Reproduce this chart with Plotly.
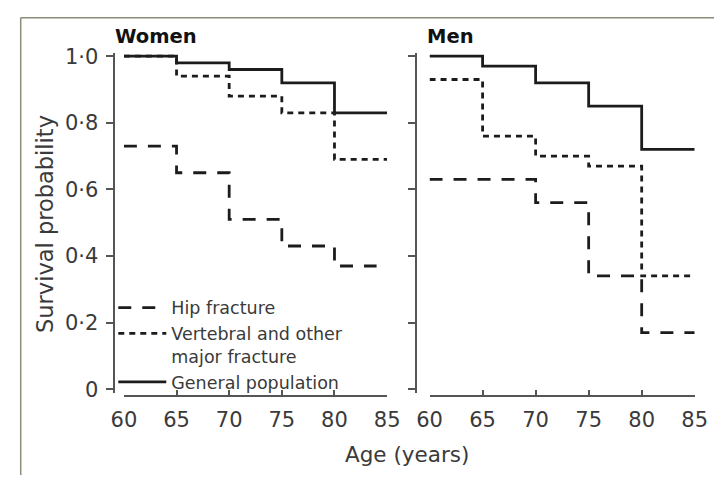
import plotly.graph_objects as go

# Age bands (start of each interval) and the closing age of each curve
ages = [60, 65, 70, 75, 80, 85]
women_hip_end = 84

# Survival probability in each age band
women_general = [1.00, 0.98, 0.96, 0.92, 0.83]
women_vertebral = [1.00, 0.94, 0.88, 0.83, 0.69]
women_hip = [0.73, 0.65, 0.51, 0.43, 0.37]

men_general = [1.00, 0.97, 0.92, 0.85, 0.72]
men_vertebral = [0.93, 0.76, 0.70, 0.67, 0.34]
men_hip = [0.63, 0.63, 0.56, 0.34, 0.17]

y_tick_vals = [0, 0.2, 0.4, 0.6, 0.8, 1.0]
y_tick_text = ["0", "0·2", "0·4", "0·6", "0·8", "1·0"]
x_tick_vals = [60, 65, 70, 75, 80, 85]

series_names = ["Hip fracture", "Vertebral and other<br>major fracture", "General population"]

W, H = 727, 484
FONT = "DejaVu Sans, Verdana, sans-serif"
INK = "#1c1c1c"
AXIS = "#555555"
TXT = "#3a3a3a"


def px_x(p):
    return p / W


def px_y(p):
    return (H - p) / H


def step(vals, end):
    xs = ages[:len(vals)] + [end]
    ys = list(vals) + [vals[-1]]
    return xs, ys


styles = {
    "hip": dict(color=INK, width=2.8, dash="13px,11px"),
    "vert": dict(color=INK, width=2.8, dash="6px,5px"),
    "gen": dict(color=INK, width=2.8, dash="solid"),
}

fig = go.Figure()

panels = [
    ("x", "y", women_general, women_vertebral, women_hip, women_hip_end, True),
    ("x2", "y2", men_general, men_vertebral, men_hip, ages[-1], False),
]

for xa, ya, gen, vert, hip, hip_end, show in panels:
    for key, vals, end, name in [
        ("hip", hip, hip_end, series_names[0]),
        ("gen", gen, ages[-1], series_names[2]),
        ("vert", vert, ages[-1], series_names[1]),
    ]:
        xs, ys = step(vals, end)
        fig.add_trace(go.Scatter(
            x=xs, y=ys, mode="lines", line_shape="hv",
            line=styles[key], name=name, showlegend=show,
            legendrank={"hip": 1, "vert": 2, "gen": 3}[key],
            xaxis=xa, yaxis=ya, hoverinfo="skip",
        ))

y_dom = [px_y(398.5), px_y(46.5)]
common_x = dict(
    range=[60, 85], tickvals=x_tick_vals, ticks="inside", ticklen=5,
    tickcolor=AXIS, tickwidth=1.5, showline=True, linecolor=AXIS, linewidth=1.5,
    showgrid=False, zeroline=False, anchor="free", position=px_y(402),
    ticklabelstandoff=5,
    tickfont=dict(family=FONT, size=21, color=TXT),
)
common_y = dict(
    range=[-0.01, 1.01], tickvals=y_tick_vals, ticktext=y_tick_text,
    ticks="outside", ticklen=7, tickcolor=AXIS, tickwidth=1.5,
    showline=True, linecolor=AXIS, linewidth=1.5, showgrid=False,
    zeroline=False, domain=y_dom, anchor="free", ticklabelstandoff=4,
    tickfont=dict(family=FONT, size=21, color=TXT),
)

fig.update_layout(
    width=W, height=H,
    margin=dict(l=0, r=0, t=0, b=0),
    paper_bgcolor="white", plot_bgcolor="rgba(0,0,0,0)",
    xaxis=dict(common_x, domain=[px_x(115), px_x(388)]),
    xaxis2=dict(common_x, domain=[px_x(432), px_x(707)]),
    yaxis=dict(common_y, position=px_x(105)),
    yaxis2=dict(common_y, position=px_x(418), showticklabels=False),
    legend=dict(
        x=px_x(104), y=px_y(292), xanchor="left", yanchor="top",
        bgcolor="rgba(0,0,0,0)", valign="top", traceorder="normal",
        font=dict(family=FONT, size=17.5, color=TXT),
        itemwidth=48,
    ),
    annotations=[
        dict(text="<b>Women</b>", x=px_x(104), y=px_y(30), xref="paper", yref="paper",
             xanchor="left", yanchor="middle", showarrow=False,
             font=dict(family=FONT, size=19.5, color="#111111")),
        dict(text="<b>Men</b>", x=px_x(427), y=px_y(30), xref="paper", yref="paper",
             xanchor="left", yanchor="middle", showarrow=False,
             font=dict(family=FONT, size=19.5, color="#111111")),
        dict(text="Survival probability", x=px_x(33), y=px_y(224), xref="paper", yref="paper",
             xanchor="center", yanchor="middle", showarrow=False, textangle=-90,
             font=dict(family=FONT, size=22.5, color=TXT)),
        dict(text="Age (years)", x=px_x(409), y=px_y(463), xref="paper", yref="paper",
             xanchor="center", yanchor="middle", showarrow=False,
             font=dict(family=FONT, size=21.5, color=TXT)),
    ],
    shapes=[
        dict(type="line", xref="paper", yref="paper", x0=px_x(8), x1=px_x(8),
             y0=px_y(10), y1=0, line=dict(color="#8c8c78", width=1.5)),
        dict(type="line", xref="paper", yref="paper", x0=px_x(8), x1=1,
             y0=px_y(10), y1=px_y(10), line=dict(color="#8c8c78", width=1.5)),
    ],
)

fig.write_html("out.html")
